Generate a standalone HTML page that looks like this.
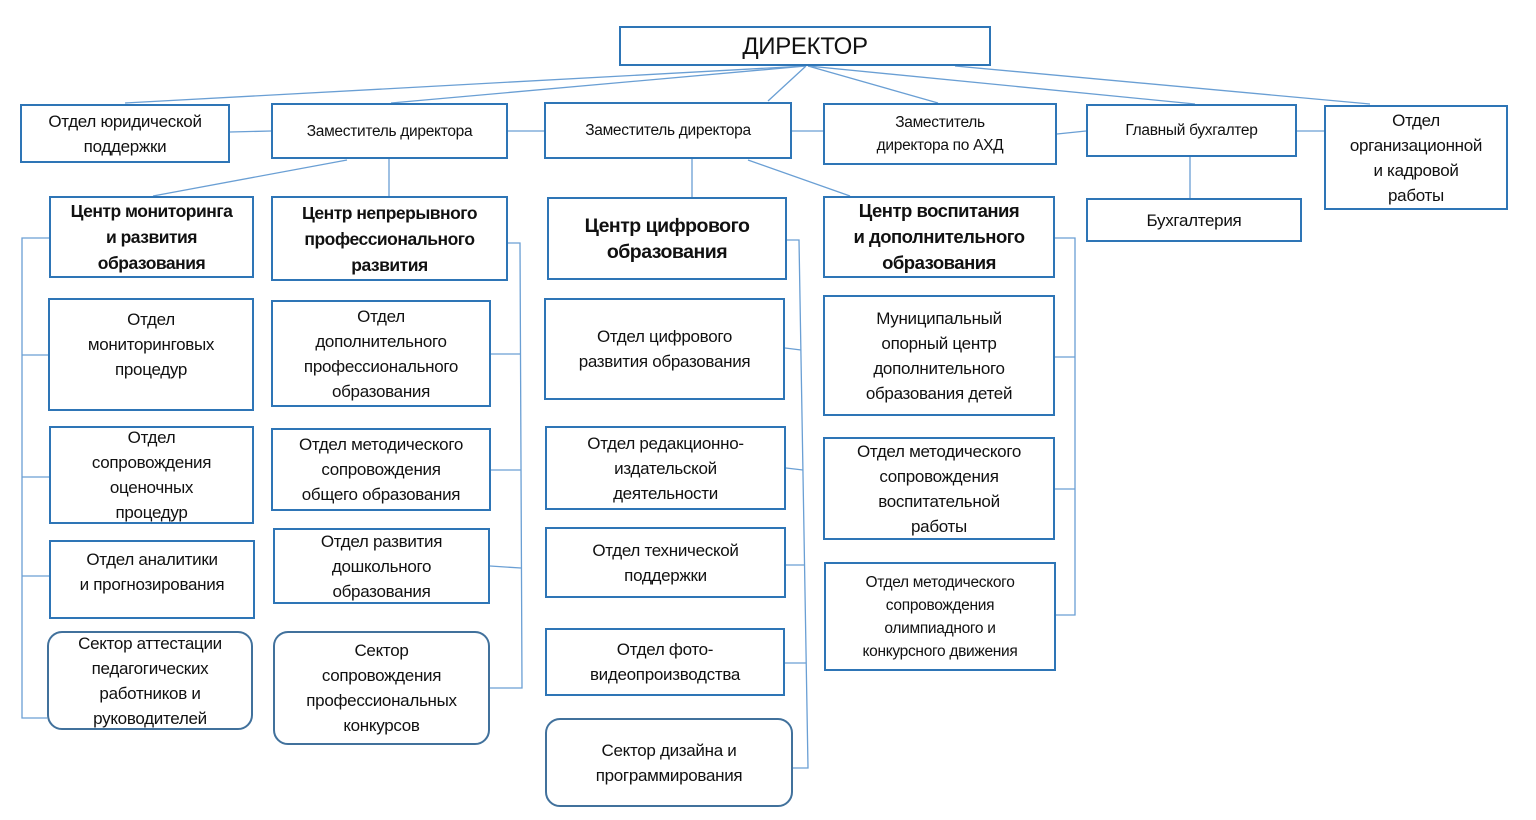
<!DOCTYPE html>
<html><head><meta charset="utf-8">
<style>
html,body{margin:0;padding:0;background:#fff;}
body{width:1536px;height:820px;position:relative;overflow:hidden;font-family:"Liberation Sans","DejaVu Sans",sans-serif;color:#111;}
.b{position:absolute;box-sizing:border-box;border:2.5px solid #2E75B6;background:#fff;display:flex;flex-direction:column;justify-content:center;align-items:center;text-align:center;font-size:17px;line-height:25px;letter-spacing:-0.3px;}
.r{border:2px solid #41719C;border-radius:15px;}
.s{font-size:15.5px;line-height:23px;}
.h{font-weight:bold;font-size:17.5px;line-height:26px;letter-spacing:-0.5px;}
.t{justify-content:flex-start;}
svg{position:absolute;left:0;top:0;}
</style></head><body>
<svg width="1536" height="820" fill="none" stroke="#6A9FD4" stroke-width="1.3">
<line x1="806" y1="66" x2="125" y2="103"/>
<line x1="806" y1="66" x2="391" y2="103"/>
<line x1="806" y1="66" x2="768" y2="101"/>
<line x1="808" y1="66" x2="938" y2="103"/>
<line x1="808" y1="66" x2="1195" y2="104"/>
<line x1="955" y1="66" x2="1370" y2="104"/>
<line x1="230" y1="132" x2="271" y2="131"/>
<line x1="508" y1="131" x2="544" y2="131"/>
<line x1="792" y1="131" x2="823" y2="131"/>
<line x1="1057" y1="134" x2="1086" y2="131"/>
<line x1="1297" y1="131" x2="1324" y2="131"/>
<line x1="389" y1="159" x2="389" y2="196"/>
<line x1="347" y1="160" x2="153" y2="196"/>
<line x1="692" y1="159" x2="692" y2="197"/>
<line x1="748" y1="160" x2="850" y2="196"/>
<line x1="1190" y1="157" x2="1190" y2="198"/>
<polyline points="49,238 22,238 22,718 47,718"/>
<line x1="22" y1="355" x2="48" y2="355"/>
<line x1="22" y1="477" x2="49" y2="477"/>
<line x1="22" y1="576" x2="49" y2="576"/>
<polyline points="508,243 520,243 522,688 490,688"/>
<line x1="491" y1="354" x2="521" y2="354"/>
<line x1="491" y1="470" x2="521" y2="470"/>
<line x1="490" y1="566" x2="521" y2="568"/>
<polyline points="787,240 799,240 808,768 793,768"/>
<line x1="785" y1="348" x2="801" y2="350"/>
<line x1="786" y1="468" x2="803" y2="470"/>
<line x1="786" y1="565" x2="805" y2="565"/>
<line x1="785" y1="663" x2="806" y2="663"/>
<polyline points="1055,238 1075,238 1075,615 1056,615"/>
<line x1="1055" y1="357" x2="1075" y2="357"/>
<line x1="1055" y1="489" x2="1075" y2="489"/>
</svg>

<div class="b" style="left:619px;top:26px;width:372px;height:40px;font-size:24px;">ДИРЕКТОР</div>
<div class="b" style="left:20px;top:104px;width:210px;height:59px;">Отдел юридической<br>поддержки</div>
<div class="b s" style="left:271px;top:103px;width:237px;height:56px;">Заместитель директора</div>
<div class="b s" style="left:544px;top:102px;width:248px;height:57px;">Заместитель директора</div>
<div class="b s" style="left:823px;top:103px;width:234px;height:62px;">Заместитель<br>директора по АХД</div>
<div class="b s" style="left:1086px;top:104px;width:211px;height:53px;">Главный бухгалтер</div>
<div class="b" style="left:1324px;top:105px;width:184px;height:105px;">Отдел<br>организационной<br>и кадровой<br>работы</div>
<div class="b" style="left:1086px;top:198px;width:216px;height:44px;">Бухгалтерия</div>

<div class="b h" style="left:49px;top:196px;width:205px;height:82px;">Центр мониторинга<br>и развития<br>образования</div>
<div class="b h" style="left:271px;top:196px;width:237px;height:85px;">Центр непрерывного<br>профессионального<br>развития</div>
<div class="b h" style="left:547px;top:197px;width:240px;height:83px;font-size:19.5px;">Центр цифрового<br>образования</div>
<div class="b h" style="left:823px;top:196px;width:232px;height:82px;font-size:18.5px;">Центр воспитания<br>и дополнительного<br>образования</div>

<div class="b t" style="left:48px;top:298px;width:206px;height:113px;padding-top:7px;">Отдел<br>мониторинговых<br>процедур</div>
<div class="b" style="left:49px;top:426px;width:205px;height:98px;">Отдел<br>сопровождения<br>оценочных<br>процедур</div>
<div class="b t" style="left:49px;top:540px;width:206px;height:79px;padding-top:5px;">Отдел аналитики<br>и прогнозирования</div>
<div class="b r" style="left:47px;top:631px;width:206px;height:99px;">Сектор аттестации<br>педагогических<br>работников и<br>руководителей</div>

<div class="b" style="left:271px;top:300px;width:220px;height:107px;">Отдел<br>дополнительного<br>профессионального<br>образования</div>
<div class="b" style="left:271px;top:428px;width:220px;height:83px;">Отдел методического<br>сопровождения<br>общего образования</div>
<div class="b" style="left:273px;top:528px;width:217px;height:76px;">Отдел развития<br>дошкольного<br>образования</div>
<div class="b r" style="left:273px;top:631px;width:217px;height:114px;">Сектор<br>сопровождения<br>профессиональных<br>конкурсов</div>

<div class="b" style="left:544px;top:298px;width:241px;height:102px;">Отдел цифрового<br>развития образования</div>
<div class="b" style="left:545px;top:426px;width:241px;height:84px;">Отдел редакционно-<br>издательской<br>деятельности</div>
<div class="b" style="left:545px;top:527px;width:241px;height:71px;">Отдел технической<br>поддержки</div>
<div class="b" style="left:545px;top:628px;width:240px;height:68px;">Отдел фото-<br>видеопроизводства</div>
<div class="b r" style="left:545px;top:718px;width:248px;height:89px;">Сектор дизайна и<br>программирования</div>

<div class="b" style="left:823px;top:295px;width:232px;height:121px;">Муниципальный<br>опорный центр<br>дополнительного<br>образования детей</div>
<div class="b" style="left:823px;top:437px;width:232px;height:103px;">Отдел методического<br>сопровождения<br>воспитательной<br>работы</div>
<div class="b" style="left:824px;top:562px;width:232px;height:109px;font-size:15.5px;line-height:23px;">Отдел методического<br>сопровождения<br>олимпиадного и<br>конкурсного движения</div>
</body></html>
